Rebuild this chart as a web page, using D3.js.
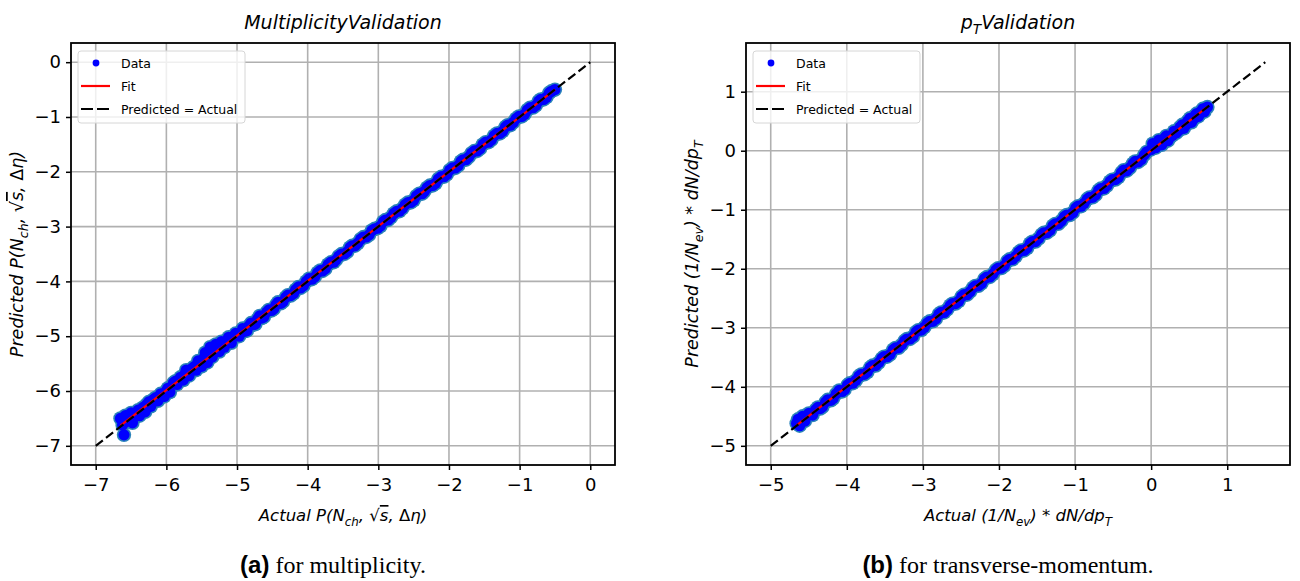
<!DOCTYPE html>
<html>
<head>
<meta charset="utf-8">
<script src="https://cdn.jsdelivr.net/npm/d3@7"></script>
<style>
  body { margin: 0; background: #fff; }
  svg { display: block; font-family: "DejaVu Sans", sans-serif; }
</style>
</head>
<body>
<svg id="chart" width="1300" height="581"></svg>
<script>
// multiplicity validation: actual vs predicted
const multActual = [-6.65,-6.62,-6.60,-6.58,-6.55,-6.50,-6.48,-6.45,-6.40,-6.38,-6.33,-6.30,-6.25,-6.22,-6.18,-6.12,-6.08,-6.03,-5.98,-5.95,-5.90,-5.85,-5.80,-5.76,-5.72,-5.68,-5.63,-5.58,-5.55,-5.50,-5.45,-5.42,-5.38,-5.35,-5.30,-5.25,-5.22,-5.18,-5.12,-5.08,-5.02,-4.97,-4.92,-4.86,-4.80,-4.74,-4.68,-4.62,-4.55,-4.48,-4.42,-4.35,-4.28,-4.20,-4.13,-4.06,-3.98,-3.90,-3.82,-3.75,-3.67,-3.60,-3.52,-3.44,-3.37,-3.29,-3.21,-3.13,-3.05,-2.97,-2.90,-2.82,-2.74,-2.66,-2.58,-2.50,-2.42,-2.35,-2.27,-2.19,-2.11,-2.03,-1.95,-1.87,-1.80,-1.72,-1.64,-1.56,-1.48,-1.40,-1.32,-1.24,-1.17,-1.09,-1.01,-0.93,-0.85,-0.77,-0.70,-0.62,-0.55,-0.50,
  -4.89,-4.83,-4.77,-4.71,-4.65,-4.58,-4.51,-4.45,-4.38,-4.31,-4.24,-4.17,-4.10,-4.02,-3.94,-3.86,-3.79,-3.71,-3.63,-3.56,-3.48,-3.40,-3.33,-3.25,-3.17,-3.09,-3.01,-2.93,-2.86,-2.78,-2.70,-2.62,-2.54,-2.46,-2.38,-2.31,-2.23,-2.15,-2.07,-1.99,-1.91,-1.83,-1.76,-1.68,-1.60,-1.52,-1.44,-1.36,-1.28,-1.20,-1.13,-1.05,-0.97,-0.89,-0.81,-0.73,-0.66,-0.58,
  -6.52,-6.42,-6.28,-6.15,-6.00,-5.87,-5.74,-5.60,-5.47,-5.33,-5.20,-5.05];
const multPredicted = [-6.50,-6.62,-6.80,-6.45,-6.55,-6.40,-6.58,-6.47,-6.35,-6.45,-6.30,-6.38,-6.20,-6.28,-6.15,-6.18,-6.05,-6.10,-5.95,-6.02,-5.85,-5.88,-5.75,-5.80,-5.62,-5.72,-5.58,-5.62,-5.45,-5.55,-5.30,-5.48,-5.20,-5.38,-5.15,-5.28,-5.10,-5.20,-5.02,-5.12,-4.95,-5.00,-4.86,-4.90,-4.76,-4.78,-4.63,-4.65,-4.52,-4.50,-4.38,-4.37,-4.25,-4.22,-4.10,-4.08,-3.95,-3.92,-3.80,-3.77,-3.65,-3.61,-3.50,-3.46,-3.35,-3.30,-3.19,-3.15,-3.04,-2.99,-2.88,-2.83,-2.72,-2.67,-2.56,-2.52,-2.40,-2.36,-2.25,-2.21,-2.09,-2.05,-1.93,-1.89,-1.78,-1.73,-1.62,-1.58,-1.46,-1.42,-1.30,-1.26,-1.15,-1.10,-0.99,-0.95,-0.83,-0.79,-0.68,-0.64,-0.53,-0.50,
  -4.91,-4.81,-4.79,-4.69,-4.67,-4.56,-4.53,-4.43,-4.40,-4.29,-4.26,-4.15,-4.12,-4.00,-3.96,-3.84,-3.81,-3.69,-3.65,-3.54,-3.50,-3.38,-3.35,-3.23,-3.19,-3.07,-3.03,-2.91,-2.88,-2.76,-2.72,-2.60,-2.56,-2.44,-2.40,-2.29,-2.25,-2.13,-2.09,-1.97,-1.93,-1.81,-1.78,-1.66,-1.62,-1.50,-1.46,-1.34,-1.30,-1.18,-1.15,-1.03,-0.99,-0.87,-0.83,-0.71,-0.68,-0.56,
  -6.48,-6.42,-6.25,-6.12,-6.00,-5.82,-5.70,-5.55,-5.40,-5.25,-5.15,-5.00];

// pT validation: actual vs predicted
const ptActual = [-4.66,-4.64,-4.62,-4.58,-4.55,-4.50,-4.45,-4.38,-4.32,-4.25,-4.18,-4.10,-4.03,-3.96,-3.88,-3.81,-3.73,-3.66,-3.58,-3.51,-3.43,-3.36,-3.28,-3.21,-3.13,-3.06,-2.98,-2.91,-2.83,-2.76,-2.68,-2.61,-2.53,-2.46,-2.38,-2.31,-2.23,-2.16,-2.08,-2.01,-1.93,-1.86,-1.78,-1.71,-1.63,-1.56,-1.48,-1.41,-1.33,-1.26,-1.18,-1.11,-1.03,-0.96,-0.88,-0.81,-0.73,-0.66,-0.58,-0.51,-0.43,-0.36,-0.28,-0.21,-0.13,-0.06,0.00,0.02,0.06,0.10,0.14,0.18,0.22,0.28,0.33,0.38,0.43,0.48,0.53,0.58,0.62,0.66,0.70,0.74,
  -4.41,-4.35,-4.28,-4.21,-4.14,-4.06,-3.99,-3.92,-3.84,-3.77,-3.69,-3.62,-3.54,-3.47,-3.39,-3.32,-3.24,-3.17,-3.09,-3.02,-2.94,-2.87,-2.79,-2.72,-2.64,-2.57,-2.49,-2.42,-2.34,-2.27,-2.19,-2.12,-2.04,-1.97,-1.89,-1.82,-1.74,-1.67,-1.59,-1.52,-1.44,-1.37,-1.29,-1.22,-1.14,-1.07,-0.99,-0.92,-0.84,-0.77,-0.69,-0.62,-0.54,-0.47,-0.39,-0.32,-0.24,-0.17,-0.09,0.04,0.12,0.20,0.25,0.30,0.36,0.41,0.46,0.51,0.56,0.60,0.64,0.68,0.72];
const ptPredicted = [-4.62,-4.55,-4.66,-4.50,-4.58,-4.45,-4.48,-4.35,-4.34,-4.22,-4.20,-4.06,-4.05,-3.94,-3.89,-3.79,-3.75,-3.64,-3.59,-3.49,-3.45,-3.34,-3.29,-3.19,-3.15,-3.04,-2.99,-2.89,-2.85,-2.74,-2.69,-2.59,-2.55,-2.44,-2.39,-2.29,-2.25,-2.14,-2.09,-1.99,-1.95,-1.84,-1.79,-1.69,-1.65,-1.54,-1.49,-1.39,-1.35,-1.24,-1.19,-1.09,-1.05,-0.94,-0.89,-0.79,-0.75,-0.64,-0.59,-0.49,-0.45,-0.33,-0.29,-0.18,-0.15,-0.02,0.02,0.12,0.05,0.18,0.10,0.22,0.17,0.26,0.30,0.40,0.38,0.50,0.48,0.60,0.58,0.67,0.66,0.74,
  -4.39,-4.37,-4.26,-4.23,-4.12,-4.08,-3.97,-3.94,-3.82,-3.79,-3.67,-3.64,-3.52,-3.49,-3.37,-3.34,-3.22,-3.19,-3.07,-3.04,-2.92,-2.89,-2.77,-2.74,-2.62,-2.59,-2.47,-2.44,-2.32,-2.29,-2.17,-2.14,-2.02,-1.99,-1.87,-1.84,-1.72,-1.69,-1.57,-1.54,-1.42,-1.39,-1.27,-1.24,-1.12,-1.09,-0.97,-0.94,-0.82,-0.79,-0.67,-0.64,-0.52,-0.49,-0.37,-0.34,-0.22,-0.19,-0.07,0.08,0.16,0.25,0.23,0.33,0.34,0.44,0.44,0.55,0.54,0.63,0.62,0.71,0.72];

const multTicks = [-7, -6, -5, -4, -3, -2, -1, 0];
const ptTicks = [-5, -4, -3, -2, -1, 0, 1];
const multIdentity = [-7, 0];
const ptIdentity = [-5, 1.5];
const legendLabels = ["Data", "Fit", "Predicted = Actual"];

const svg = d3.select("#chart");
svg.append("rect").attr("width", 1300).attr("height", 581).attr("fill", "#fff");

const fmt = d => d < 0 ? "\u2212" + Math.abs(d) : String(d);

// least squares line through the points
function fitLine(xs, ys) {
  const mx = d3.mean(xs), my = d3.mean(ys);
  let sxy = 0, sxx = 0;
  xs.forEach((x, i) => { sxy += (x - mx) * (ys[i] - my); sxx += (x - mx) * (x - mx); });
  const b = sxy / sxx, a = my - b * mx;
  const lo = d3.min(xs), hi = d3.max(xs);
  return [[lo, a + b * lo], [hi, a + b * hi]];
}

// text with sub/overline pieces: [text, kind]
function richText(sel, parts) {
  parts.forEach(([t, kind]) => {
    const ts = sel.append("tspan").text(t);
    if (kind === "sub") ts.attr("font-size", "72%").attr("dy", 5);
    if (kind === "after") ts.attr("dy", -5);
    if (kind === "over") ts.style("text-decoration", "overline");
    if (kind === "up") ts.attr("font-style", "normal");
  });
}

function drawPanel(cfg) {
  const x = d3.scaleLinear().domain(cfg.domain).range([cfg.x0, cfg.x1]);
  const y = d3.scaleLinear().domain(cfg.domain).range([cfg.y1, cfg.y0]);
  const g = svg.append("g");

  // grid
  g.append("g").selectAll("line").data(cfg.ticks).join("line")
    .attr("x1", d => x(d)).attr("x2", d => x(d))
    .attr("y1", cfg.y0).attr("y2", cfg.y1)
    .attr("stroke", "#b0b0b0").attr("stroke-width", 1.6);
  g.append("g").selectAll("line").data(cfg.ticks).join("line")
    .attr("y1", d => y(d)).attr("y2", d => y(d))
    .attr("x1", cfg.x0).attr("x2", cfg.x1)
    .attr("stroke", "#b0b0b0").attr("stroke-width", 1.6);

  // data points: edge layer then face layer
  const pts = cfg.actual.map((a, i) => [a, cfg.predicted[i]]);
  g.append("g").selectAll("circle").data(pts).join("circle")
    .attr("cx", d => x(d[0])).attr("cy", d => y(d[1]))
    .attr("r", 7.2).attr("fill", "#2b83ba");
  g.append("g").selectAll("circle").data(pts).join("circle")
    .attr("cx", d => x(d[0])).attr("cy", d => y(d[1]))
    .attr("r", 5.6).attr("fill", "#0000ff");

  // fit line
  const line = d3.line().x(d => x(d[0])).y(d => y(d[1]));
  g.append("path").datum(fitLine(cfg.actual, cfg.predicted))
    .attr("d", line).attr("fill", "none")
    .attr("stroke", "#ff0000").attr("stroke-width", 2.2);

  // identity line
  g.append("path").datum(cfg.identity.map(v => [v, v]))
    .attr("d", line).attr("fill", "none")
    .attr("stroke", "#000").attr("stroke-width", 2.2)
    .attr("stroke-dasharray", "9,4");

  // axes
  const xAxis = g.append("g").attr("transform", `translate(0,${cfg.y1})`)
    .call(d3.axisBottom(x).tickValues(cfg.ticks).tickFormat(fmt).tickSize(5).tickPadding(8));
  const yAxis = g.append("g").attr("transform", `translate(${cfg.x0},0)`)
    .call(d3.axisLeft(y).tickValues(cfg.ticks).tickFormat(fmt).tickSize(5).tickPadding(5));
  [xAxis, yAxis].forEach(a => {
    a.select(".domain").remove();
    a.selectAll(".tick line").attr("stroke", "#000").attr("stroke-width", 1.5);
    a.selectAll(".tick text").attr("fill", "#000")
      .attr("font-family", "DejaVu Sans").attr("font-size", 18);
  });

  g.append("rect")
    .attr("x", cfg.x0).attr("y", cfg.y0)
    .attr("width", cfg.x1 - cfg.x0).attr("height", cfg.y1 - cfg.y0)
    .attr("fill", "none").attr("stroke", "#000").attr("stroke-width", 1.8);

  // title
  const cx = (cfg.x0 + cfg.x1) / 2;
  const title = g.append("text").attr("x", cx).attr("y", 29)
    .attr("text-anchor", "middle").attr("font-size", 19).attr("font-style", "italic");
  richText(title, cfg.title);

  // axis labels
  const xl = g.append("text").attr("x", cx).attr("y", 521)
    .attr("text-anchor", "middle").attr("font-size", 16.5).attr("font-style", "italic");
  richText(xl, cfg.xLabel);
  const yl = g.append("text")
    .attr("transform", `translate(${cfg.x0 - 48},${(cfg.y0 + cfg.y1) / 2}) rotate(-90)`)
    .attr("text-anchor", "middle").attr("font-size", 17.5).attr("font-style", "italic");
  richText(yl, cfg.yLabel);

  // legend
  const lx = cfg.x0 + 7, ly = 51;
  const leg = g.append("g");
  leg.append("rect").attr("x", lx).attr("y", ly).attr("width", 167).attr("height", 72)
    .attr("rx", 3).attr("fill", "#fff").attr("fill-opacity", 0.8)
    .attr("stroke", "#d6d6d6").attr("stroke-width", 1);
  leg.append("circle").attr("cx", lx + 18).attr("cy", ly + 12).attr("r", 3.4).attr("fill", "#0000ff");
  leg.append("line").attr("x1", lx + 3).attr("x2", lx + 32).attr("y1", ly + 35).attr("y2", ly + 35)
    .attr("stroke", "#ff0000").attr("stroke-width", 2.2);
  leg.append("line").attr("x1", lx + 3).attr("x2", lx + 32).attr("y1", ly + 58).attr("y2", ly + 58)
    .attr("stroke", "#000").attr("stroke-width", 2.2).attr("stroke-dasharray", "12,4");
  leg.selectAll("text.lab").data(legendLabels).join("text").attr("class", "lab")
    .attr("x", lx + 43).attr("y", (d, i) => ly + 17 + i * 23)
    .attr("font-size", 12.5).text(d => d);

  // caption
  const cap = g.append("text").attr("x", cfg.capX).attr("y", 573)
    .attr("text-anchor", "middle").attr("font-size", 24);
  cap.append("tspan").attr("font-family", "Liberation Sans, Arial, sans-serif")
    .attr("font-weight", "bold").text(cfg.capTag);
  cap.append("tspan").attr("font-family", "Liberation Serif, Times New Roman, serif")
    .text(" " + cfg.capText);
}

drawPanel({
  x0: 71, x1: 615, y0: 43, y1: 465,
  domain: [-7.35, 0.35], ticks: multTicks, identity: multIdentity,
  actual: multActual, predicted: multPredicted,
  title: [["MultiplicityValidation"]],
  xLabel: [["Actual P(N"], ["ch", "sub"], [", \u221A", "after"], ["s", "over"], [", "], ["\u0394", "up"], ["\u03B7)"]],
  yLabel: [["Predicted P(N"], ["ch", "sub"], [", \u221A", "after"], ["s", "over"], [", "], ["\u0394", "up"], ["\u03B7)"]],
  capX: 333, capTag: "(a)", capText: "for multiplicity."
});

drawPanel({
  x0: 746, x1: 1290, y0: 43, y1: 465,
  domain: [-5.325, 1.825], ticks: ptTicks, identity: ptIdentity,
  actual: ptActual, predicted: ptPredicted,
  title: [["p"], ["T", "sub"], ["Validation", "after"]],
  xLabel: [["Actual (1/N"], ["ev", "sub"], [")", "after"], [" * dN/dp"], ["T", "sub"]],
  yLabel: [["Predicted (1/N"], ["ev", "sub"], [")", "after"], [" * dN/dp"], ["T", "sub"]],
  capX: 1008, capTag: "(b)", capText: "for transverse-momentum."
});
</script>
</body>
</html>
